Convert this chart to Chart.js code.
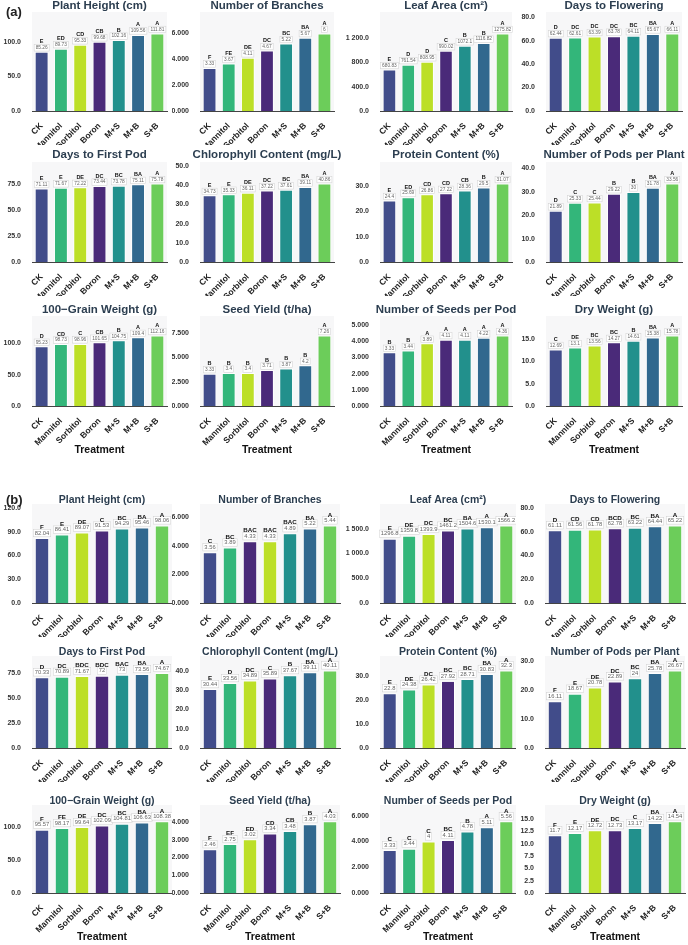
<!DOCTYPE html>
<html><head><meta charset="utf-8">
<script src="https://cdn.jsdelivr.net/npm/chart.js@4.4.0/dist/chart.umd.min.js"></script>
<style>
body{margin:0;background:#fff;width:688px;height:945px;position:relative;overflow:hidden;font-family:"Liberation Sans",Arial,sans-serif;}
canvas{position:absolute;}
.lab{position:absolute;font-weight:bold;font-size:13px;color:#222;z-index:5;}
</style></head><body>
<div class="lab" style="left:6px;top:4px">(a)</div>
<div class="lab" style="left:6px;top:492px">(b)</div>
<script>
const treatments = ['CK','Mannitol','Sorbitol','Boron','M+S','M+B','S+B'];

// ---- Panel (a) ----
const A_plantHeight = [85.26, 89.73, 95.33, 99.68, 102.16, 109.56, 111.81];
const A_plantHeightL = ['E','ED','CD','CB','B','A','A'];
const A_branches = [3.33, 3.67, 4.11, 4.67, 5.22, 5.67, 6];
const A_branchesL = ['F','FE','DE','DC','BC','BA','A'];
const A_leafArea = [680.83, 761.54, 808.95, 990.02, 1072.1, 1116.82, 1275.82];
const A_leafAreaL = ['E','D','D','C','B','B','A'];
const A_flowering = [62.44, 62.61, 63.39, 63.78, 64.11, 65.67, 66.11];
const A_floweringL = ['D','DC','DC','DC','BC','BA','A'];
const A_firstPod = [71.11, 71.67, 72.22, 73.44, 73.78, 75.11, 75.78];
const A_firstPodL = ['E','E','DE','DC','BC','BA','A'];
const A_chloro = [34.73, 35.33, 36.11, 37.22, 37.61, 39.11, 40.86];
const A_chloroL = ['E','E','DE','DC','BC','BA','A'];
const A_protein = [24.4, 25.69, 26.86, 27.22, 28.36, 29.5, 31.07];
const A_proteinL = ['E','ED','CD','CD','CB','B','A'];
const A_pods = [21.89, 25.33, 25.44, 29.22, 30, 31.78, 33.56];
const A_podsL = ['D','C','C','B','B','BA','A'];
const A_grain = [95.23, 98.73, 98.96, 101.65, 104.75, 109.4, 112.16];
const A_grainL = ['D','CD','C','CB','B','A','A'];
const A_yield = [3.33, 3.4, 3.4, 3.71, 3.87, 4.2, 7.26];
const A_yieldL = ['B','B','B','B','B','B','A'];
const A_seeds = [3.33, 3.44, 3.89, 4.11, 4.11, 4.22, 4.36];
const A_seedsL = ['B','B','A','A','A','A','A'];
const A_dry = [12.69, 13.1, 13.56, 14.27, 14.61, 15.38, 15.78];
const A_dryL = ['C','DE','BC','BC','B','BA','A'];

// ---- Panel (b) ----
const B_plantHeight = [82.04, 86.41, 89.07, 91.53, 94.29, 95.46, 98.06];
const B_plantHeightL = ['F','E','DE','C','BC','BA','A'];
const B_branches = [3.56, 3.89, 4.33, 4.33, 4.89, 5.22, 5.44];
const B_branchesL = ['C','BC','BAC','BAC','BAC','BA','A'];
const B_leafArea = [1296.8, 1359.8, 1393.9, 1461.2, 1504.6, 1530.1, 1566.2];
const B_leafAreaL = ['E','DE','DC','BC','BA','A','A'];
const B_flowering = [61.11, 61.56, 61.78, 62.78, 63.22, 64.44, 65.22];
const B_floweringL = ['D','CD','CD','BCD','BC','BA','A'];
const B_firstPod = [70.33, 70.89, 71.67, 72, 73, 73.56, 74.67];
const B_firstPodL = ['D','DC','BDC','BDC','BAC','BA','A'];
const B_chloro = [30.44, 33.56, 34.89, 35.89, 37.67, 39.11, 40.11];
const B_chloroL = ['E','D','DC','C','B','BA','A'];
const B_protein = [22.8, 24.38, 26.42, 27.92, 28.71, 30.83, 32.3];
const B_proteinL = ['E','DE','DC','BC','BC','BA','A'];
const B_pods = [16.11, 18.67, 20.78, 22.89, 24, 25.78, 26.67];
const B_podsL = ['F','E','DE','DC','BC','BA','A'];
const B_grain = [95.57, 98.17, 99.64, 102.09, 104.81, 106.63, 108.38];
const B_grainL = ['F','FE','DE','DC','BC','BA','A'];
const B_yield = [2.46, 2.75, 3.02, 3.34, 3.48, 3.87, 4.03];
const B_yieldL = ['F','EF','ED','CD','CB','B','A'];
const B_seeds = [3.33, 3.44, 4, 4.11, 4.78, 5.11, 5.56];
const B_seedsL = ['C','C','C','BC','B','A','A'];
const B_dry = [11.7, 12.17, 12.72, 12.73, 13.17, 14.22, 14.54];
const B_dryL = ['F','E','DE','DC','C','BA','A'];

const PAL = ['#414c8a','#33b67a','#bcdf27','#4a2a79','#22908c','#31688e','#6ccd5a'];
const PAL_SWAP = ['#414c8a','#33b67a','#4a2a79','#bcdf27','#22908c','#31688e','#6ccd5a'];

// panel,row,col,title,values,letters,tickStep,decimals,headroom,swapColours
const specs = [
 ['a',0,0,'Plant Height (cm)',A_plantHeight,A_plantHeightL,50,1,1.25],
 ['a',0,1,'Number of Branches',A_branches,A_branchesL,2,3,1.25],
 ['a',0,2,'Leaf Area (cm²)',A_leafArea,A_leafAreaL,400,1,1.25],
 ['a',0,3,'Days to Flowering',A_flowering,A_floweringL,20,1,1.25],
 ['a',1,0,'Days to First Pod',A_firstPod,A_firstPodL,25,1,1.25],
 ['a',1,1,'Chlorophyll Content (mg/L)',A_chloro,A_chloroL,10,1,1.25],
 ['a',1,2,'Protein Content (%)',A_protein,A_proteinL,10,1,1.25],
 ['a',1,3,'Number of Pods per Plant',A_pods,A_podsL,10,1,1.25],
 ['a',2,0,'100−Grain Weight (g)',A_grain,A_grainL,50,1,1.25],
 ['a',2,1,'Seed Yield (t/ha)',A_yield,A_yieldL,2.5,3,1.25],
 ['a',2,2,'Number of Seeds per Pod',A_seeds,A_seedsL,1,3,1.25],
 ['a',2,3,'Dry Weight (g)',A_dry,A_dryL,5,1,1.25],
 ['b',0,0,'Plant Height (cm)',B_plantHeight,B_plantHeightL,30,1,1.25],
 ['b',0,1,'Number of Branches',B_branches,B_branchesL,2,3,1.25,true],
 ['b',0,2,'Leaf Area (cm²)',B_leafArea,B_leafAreaL,500,1,1.25],
 ['b',0,3,'Days to Flowering',B_flowering,B_floweringL,20,1,1.25],
 ['b',1,0,'Days to First Pod',B_firstPod,B_firstPodL,25,1,1.2],
 ['b',1,1,'Chlorophyll Content (mg/L)',B_chloro,B_chloroL,10,1,1.16],
 ['b',1,2,'Protein Content (%)',B_protein,B_proteinL,10,1,1.16],
 ['b',1,3,'Number of Pods per Plant',B_pods,B_podsL,10,1,1.16],
 ['b',2,0,'100−Grain Weight (g)',B_grain,B_grainL,50,1,1.2],
 ['b',2,1,'Seed Yield (t/ha)',B_yield,B_yieldL,1,3,1.2],
 ['b',2,2,'Number of Seeds per Pod',B_seeds,B_seedsL,2,3,1.2],
 ['b',2,3,'Dry Weight (g)',B_dry,B_dryL,2.5,1,1.2],
];

const GEO = {
  a: {rows:[{t:6,top:14,ax:111},{t:155,top:164,ax:262},{t:310,top:318,ax:406}],
      cols:[[32,167],[200,334],[380,512],[546,682]], tf:11.5, vf:4.8, lf:5.5, vOff:4, lOff:10},
  b: {rows:[{t:500,top:506,ax:603},{t:652,top:658,ax:748},{t:801,top:807,ax:893}],
      cols:[[32,172],[200,340],[380,518],[545,685]], tf:10.5, vf:5.8, lf:6.2, vOff:5, lOff:10.5}
};
const FAM = '"Liberation Sans", Arial, sans-serif';

function fmt(v, dec){
  let s = Math.abs(v).toFixed(dec);
  let [ip, fp] = s.split('.');
  ip = ip.replace(/\B(?=(\d{3})+(?!\d))/g, ' ');
  return (v<0?'-':'') + ip + (fp!==undefined ? '.'+fp : '');
}

const annot = {
  id:'annot',
  beforeDraw(chart){
    const {ctx, chartArea:a} = chart;
    ctx.save(); ctx.fillStyle = '#f7f7f8';
    ctx.fillRect(a.left, a.top-2, a.right-a.left, a.bottom-a.top+2);
    ctx.restore();
  },
  afterDatasetsDraw(chart){
    const o = chart.config.options.annotCfg;
    const ctx = chart.ctx; const meta = chart.getDatasetMeta(0);
    const ds = chart.data.datasets[0];
    ctx.save();
    ctx.textAlign='center'; ctx.textBaseline='middle';
    meta.data.forEach((bar,i)=>{
      const txt = String(ds.data[i]);
      ctx.font = `${o.vf}px ${FAM}`;
      const w = ctx.measureText(txt).width;
      const cy = bar.y - o.vOff;
      ctx.fillStyle = 'rgba(255,255,255,0.9)';
      ctx.fillRect(bar.x - w/2 - 1.5, cy - o.vf/2 - 0.8, w + 3, o.vf + 1.6);
      ctx.strokeStyle = 'rgba(190,190,190,0.7)'; ctx.lineWidth = 0.5;
      ctx.strokeRect(bar.x - w/2 - 1.5, cy - o.vf/2 - 0.8, w + 3, o.vf + 1.6);
      ctx.fillStyle = '#666';
      ctx.fillText(txt, bar.x, cy);
      ctx.font = `bold ${o.lf}px ${FAM}`;
      ctx.fillStyle = '#111';
      ctx.fillText(ds.letters[i], bar.x, bar.y - o.lOff);
    });
    ctx.restore();
  },
  afterDraw(chart){
    const o = chart.config.options.annotCfg;
    const {ctx, chartArea:a} = chart;
    ctx.save();
    ctx.textAlign='center'; ctx.textBaseline='middle';
    ctx.font = `bold ${o.tf}px ${FAM}`; ctx.fillStyle = '#2c3e50';
    ctx.fillText(o.title, (a.left+a.right)/2, o.titleY);
    if (o.treat){
      ctx.font = `bold 10.5px ${FAM}`; ctx.fillStyle = '#111';
      ctx.fillText('Treatment', (a.left+a.right)/2, a.bottom + 44);
    }
    ctx.restore();
  }
};

specs.forEach(sp => {
  const [panel,row,col,title,vals,letters,step,dec,head,swap] = sp;
  const g = GEO[panel], r = g.rows[row], c = g.cols[col];
  const cLeft = col*172, cTop = r.t - 10, W = 172;
  const bottomRow = row === 2;
  const xh = bottomRow ? 62 : 34;
  const H = r.ax - cTop + xh;
  const cv = document.createElement('canvas');
  cv.width = W; cv.height = H;
  cv.style.left = cLeft+'px'; cv.style.top = cTop+'px';
  cv.style.width = W+'px'; cv.style.height = H+'px';
  document.body.appendChild(cv);
  const yw = c[0] - cLeft, padR = cLeft + W - c[1];
  const ymax = Math.max(...vals) * head;
  new Chart(cv, {
    type:'bar',
    data:{labels:treatments, datasets:[{data:vals, letters:letters,
      backgroundColor: swap ? PAL_SWAP : PAL, borderColor:'rgba(255,255,255,0.85)', borderWidth:1,
      barPercentage:0.72, categoryPercentage:1}]},
    options:{
      responsive:false, animation:false, devicePixelRatio:1,
      annotCfg:{title, titleY:10, tf:g.tf, vf:g.vf, lf:g.lf, vOff:g.vOff, lOff:g.lOff, treat:bottomRow},
      layout:{padding:{left:0,right:padR,top:r.top - cTop,bottom:0}},
      plugins:{legend:{display:false}, tooltip:{enabled:false}, title:{display:false}},
      scales:{
        x:{grid:{display:false}, border:{display:true,color:'#444',width:1},
           ticks:{color:'#222', font:{size:8.5, weight:'bold', family:FAM}, maxRotation:45, minRotation:45, padding:2, autoSkip:false},
           afterFit(s){ s.height = xh; }},
        y:{min:0, max:ymax, grid:{display:false}, border:{display:false},
           ticks:{color:'#333', font:{size:7, weight:'bold', family:FAM}, padding:3,
                  callback:(v)=>fmt(v,dec)},
           afterBuildTicks(s){
             const t = [];
             for (let k = 0; k*step <= ymax + 1e-9; k++) t.push({value: +(k*step).toFixed(6)});
             s.ticks = t;
           },
           afterFit(s){ s.width = yw; }}
      }
    },
    plugins:[annot]
  });
});
</script>
</body></html>
